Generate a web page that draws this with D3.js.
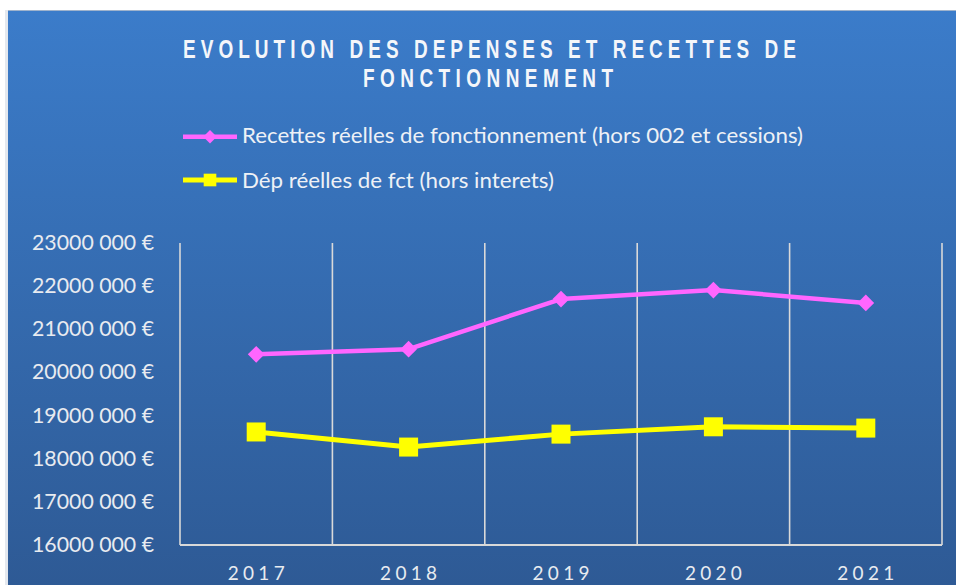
<!DOCTYPE html>
<html>
<head>
<meta charset="utf-8">
<script src="https://cdn.jsdelivr.net/npm/d3@7"></script>
<style>
  html, body { margin: 0; padding: 0; background: #ffffff; }
  svg { display: block; }
</style>
</head>
<body>
<script>
// ---- data ----
const years = ["2017", "2018", "2019", "2020", "2021"];
const recettes = [20420000, 20540000, 21700000, 21910000, 21610000];
const depenses = [18620000, 18270000, 18570000, 18740000, 18710000];
const seriesNames = [
  "Recettes réelles de fonctionnement (hors 002 et cessions)",
  "Dép réelles de fct (hors interets)"
];
const yTicks = [16000000, 17000000, 18000000, 19000000, 20000000, 21000000, 22000000, 23000000];
const yTickLabels = ["16000 000 €", "17000 000 €", "18000 000 €", "19000 000 €", "20000 000 €", "21000 000 €", "22000 000 €", "23000 000 €"];
const titleLines = ["EVOLUTION DES DEPENSES ET RECETTES DE", "FONCTIONNEMENT"];

// ---- setup ----
const W = 956, H = 585;
const svg = d3.select("body").append("svg").attr("width", W).attr("height", H);
const defs = svg.append("defs");
const grad = defs.append("linearGradient").attr("id", "bg").attr("x1", 0).attr("y1", 0).attr("x2", 0).attr("y2", 1);
grad.append("stop").attr("offset", "0%").attr("stop-color", "#3b7cca");
grad.append("stop").attr("offset", "100%").attr("stop-color", "#2e5a95");

// faint shadow on left
svg.append("rect").attr("x", 5).attr("y", 10).attr("width", 4).attr("height", H - 10).attr("fill", "#e4e8ee");
svg.append("rect").attr("x", 8).attr("y", 10).attr("width", W - 8).attr("height", H - 10).attr("fill", "url(#bg)");
svg.append("line").attr("x1", 8).attr("x2", W).attr("y1", 10.5).attr("y2", 10.5).attr("stroke", "#9fb3cc").attr("stroke-width", 1);

const textFont = "Lato, 'Open Sans', sans-serif";

// ---- title (condensed bold, letter-spaced) ----
const titleFont = "'Liberation Sans Narrow', 'Liberation Sans', sans-serif";
const condense = 0.76;
const titleSpecs = [
  { text: titleLines[0], cx: 489.5, y: 57.5, len: 613 },
  { text: titleLines[1], cx: 488, y: 87, len: 250 }
];
svg.selectAll("g.title").data(titleSpecs).enter().append("g")
  .attr("class", "title")
  .attr("transform", d => `translate(${d.cx - d.len / 2},${d.y}) scale(${condense},1)`)
  .append("text")
  .attr("x", 0)
  .attr("y", 0)
  .attr("textLength", d => d.len / condense)
  .attr("lengthAdjust", "spacing")
  .attr("font-family", titleFont)
  .attr("font-weight", "bold")
  .attr("font-size", 25)
  .attr("fill", "#f4f6fa")
  .text(d => d.text);

// ---- scales ----
const x = d3.scaleBand().domain(years).range([180, 942]).padding(0);
const y = d3.scaleLinear().domain([16000000, 23000000]).range([545, 243]);
const cx = d => x(d) + x.bandwidth() / 2;

// ---- grid (category boundaries) ----
const boundaries = years.map(d => x(d)).concat([x.range()[1]]);
svg.append("g").selectAll("line").data(boundaries).enter().append("line")
  .attr("x1", d => d).attr("x2", d => d)
  .attr("y1", y(23000000)).attr("y2", y(16000000))
  .attr("stroke", "#d9d9d9").attr("stroke-width", 1.6);
svg.append("line")
  .attr("x1", x.range()[0]).attr("x2", x.range()[1])
  .attr("y1", y(16000000)).attr("y2", y(16000000))
  .attr("stroke", "#d9d9d9").attr("stroke-width", 1.8);

// ---- y axis labels ----
svg.append("g").selectAll("text").data(yTicks).enter().append("text")
  .attr("x", 154)
  .attr("y", d => y(d) + 7)
  .attr("text-anchor", "end")
  .attr("textLength", 122)
  .attr("lengthAdjust", "spacingAndGlyphs")
  .attr("font-family", textFont)
  .attr("font-size", 20.5)
  .attr("fill", "#e8ebf0")
  .text((d, i) => yTickLabels[i]);

// ---- x axis labels ----
svg.append("g").selectAll("text").data(years).enter().append("text")
  .attr("x", d => cx(d) - 28.5)
  .attr("y", 580)
  .attr("textLength", 57)
  .attr("lengthAdjust", "spacing")
  .attr("font-family", textFont)
  .attr("font-size", 19)
  .attr("fill", "#e8ebf0")
  .text(d => d);

// ---- lines ----
const line = d3.line().x((d, i) => cx(years[i])).y(d => y(d));
svg.append("path").datum(recettes).attr("d", line)
  .attr("fill", "none").attr("stroke", "#ff66ff").attr("stroke-width", 4.5).attr("stroke-linejoin", "round");
svg.append("path").datum(depenses).attr("d", line)
  .attr("fill", "none").attr("stroke", "#ffff00").attr("stroke-width", 5).attr("stroke-linejoin", "round");

const diamond = d3.symbol().type(d3.symbolSquare).size(140);
const square = d3.symbol().type(d3.symbolSquare).size(361);
svg.append("g").selectAll("path").data(recettes).enter().append("path")
  .attr("d", diamond)
  .attr("transform", (d, i) => `translate(${cx(years[i])},${y(d)}) rotate(45)`)
  .attr("fill", "#ff66ff");
svg.append("g").selectAll("path").data(depenses).enter().append("path")
  .attr("d", square)
  .attr("transform", (d, i) => `translate(${cx(years[i])},${y(d)})`)
  .attr("fill", "#ffff00");

// ---- legend ----
const legendSpecs = [
  { name: seriesNames[0], color: "#ff66ff", ly: 136.7, ty: 143, len: 561, sym: d3.symbol().type(d3.symbolSquare).size(90), rot: 45, sw: 4.5 },
  { name: seriesNames[1], color: "#ffff00", ly: 180, ty: 187.5, len: 312, sym: d3.symbol().type(d3.symbolSquare).size(160), rot: 0, sw: 5 }
];
const lg = svg.append("g").selectAll("g").data(legendSpecs).enter().append("g");
lg.append("line").attr("x1", 183).attr("x2", 237)
  .attr("y1", d => d.ly).attr("y2", d => d.ly)
  .attr("stroke", d => d.color).attr("stroke-width", d => d.sw);
lg.append("path").attr("d", d => d.sym())
  .attr("transform", d => `translate(210,${d.ly}) rotate(${d.rot})`)
  .attr("fill", d => d.color);
lg.append("text")
  .attr("x", 242).attr("y", d => d.ty)
  .attr("textLength", d => d.len)
  .attr("lengthAdjust", "spacingAndGlyphs")
  .attr("font-family", textFont)
  .attr("font-size", 21)
  .attr("fill", "#eef1f6")
  .text(d => d.name);
</script>
</body>
</html>
